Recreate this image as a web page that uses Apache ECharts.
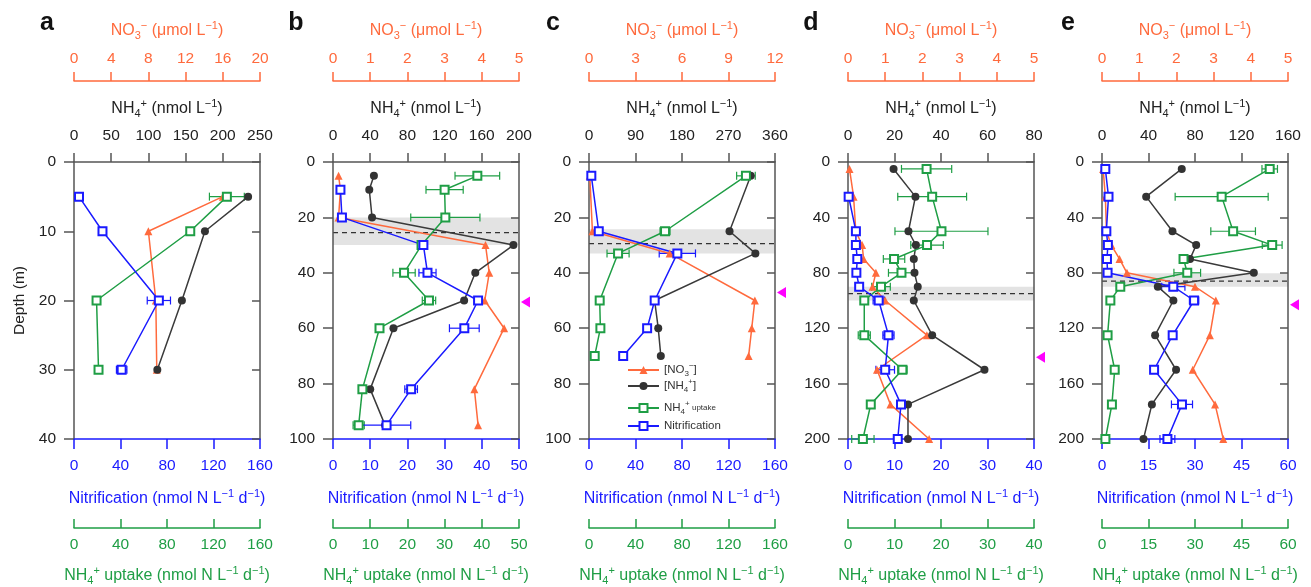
<!DOCTYPE html>
<html><head><meta charset="utf-8">
<script src="https://cdn.jsdelivr.net/npm/echarts@6/dist/echarts.min.js"></script>
<style>html,body{margin:0;padding:0;background:#fff}#c{width:1311px;height:587px}</style>
</head><body><div id="c"></div><script>
const FONT = "'Liberation Sans', Arial, Helvetica, sans-serif";
const C_NO3 = '#ff6a3d', C_NH4 = '#3a3a3a', C_UPT = '#1f9e45', C_NIT = '#1a1aff', C_AX = '#555', C_TXT = '#222';

// ---- axis ranges per panel (a..e) ----
const panelLetters = ['a', 'b', 'c', 'd', 'e'];
const depthMax = [40, 100, 100, 200, 200], depthStep = [10, 20, 20, 40, 40];
const no3Max = [20, 5, 12, 5, 5], no3Step = [4, 1, 3, 1, 1];
const nh4Max = [250, 200, 360, 80, 160], nh4Step = [50, 40, 90, 20, 40];
const nitMax = [160, 50, 160, 40, 60], nitStep = [40, 10, 40, 10, 15];
const uptMax = [160, 50, 160, 40, 60], uptStep = [40, 10, 40, 10, 15];

// ---- panel a ----
const depthA = [5, 10, 20, 30];
const no3A = [16.0, 8.0, 8.8, 8.9];
const nh4A = [234, 176, 145, 112];
const uptA = [131.5, 100, 19.4, 21.1];
const uptErrA = [15, 3, 3, 2];
const depthNitA = [5, 10, 20, 30];
const nitA = [4.3, 24.5, 73, 41];
const nitErrA = [1, 1, 10, 4.5];

// ---- panel b ----
const depthB = [5, 10, 20, 30, 40, 50, 60, 82, 95];
const no3B = [0.15, 0.2, 0.15, 4.1, 4.2, 4.08, 4.6, 3.8, 3.9];
const nh4B = [44, 39, 42, 194, 153, 141, 65, 40, 56];
const uptB = [38.8, 30, 30.2, 23.8, 19.1, 25.8, 12.5, 7.9, 6.9];
const uptErrB = [6, 5, 9.3, 1, 3, 1.8, 0.8, 0.8, 1.5];
const depthNitB = [10, 20, 30, 40, 50, 60, 82, 95];
const nitB = [2.0, 2.4, 24.3, 25.4, 39, 35.3, 21, 14.4];
const nitErrB = [0.6, 1, 1, 2.3, 1, 4, 1.7, 6.5];

// ---- panel c ----
const depthC = [5, 25, 33, 50, 60, 70];
const no3C = [0.05, 0.22, 5.2, 10.7, 10.5, 10.3];
const nh4C = [313, 272, 322, 127, 134, 139];
const uptC = [135, 65.4, 25, 9.2, 9.8, 4.9];
const uptErrC = [8, 4.3, 9.5, 0.8, 0.8, 0.8];
const depthNitC = [5, 25, 33, 50, 60, 70];
const nitC = [2, 8.4, 76, 56.5, 50, 29.4];
const nitErrC = [1, 1, 15.6, 1, 1, 1];

// ---- panel d ----
const depthD = [5, 25, 50, 60, 70, 80, 90, 100, 125, 150, 175, 200];
const no3D = [0.04, 0.15, 0.21, 0.38, 0.42, 0.75, 0.66, 1.0, 2.12, 0.78, 1.14, 2.18];
const nh4D = [19.6, 29, 26, 29.2, 28.3, 28.6, 30, 28.3, 36.2, 58.7, 25.8, 25.8];
const uptD = [16.9, 18.1, 20.1, 17, 9.9, 11.5, 7.1, 3.5, 3.5, 11.7, 4.9, 3.2];
const uptErrD = [5.4, 7.4, 10, 3.5, 2.3, 2.8, 2, 0.6, 1.3, 1, 0.6, 2.4];
const depthNitD = [25, 50, 60, 70, 80, 90, 100, 125, 150, 175, 200];
const nitD = [0.14, 1.7, 1.7, 2, 1.8, 2.4, 6.6, 8.7, 8, 11.4, 10.7];
const nitErrD = [0.3, 0.3, 0.8, 0.3, 0.3, 0.3, 1.2, 1.2, 2, 0.6, 0.5];

// ---- panel e ----
const depthE = [5, 25, 50, 60, 70, 80, 90, 100, 125, 150, 175, 200];
const no3E = [0.03, 0.09, 0.12, 0.25, 0.47, 0.67, 2.5, 3.06, 2.9, 2.44, 3.04, 3.26];
const nh4E = [68.6, 38, 60.6, 81, 75.7, 130.6, 48, 61.4, 45.7, 63.7, 42.9, 35.7];
const uptE = [54.1, 38.6, 42.3, 54.9, 26.3, 27.5, 5.9, 2.7, 1.8, 4.1, 3.2, 1.1];
const uptErrE = [2.5, 15, 7.2, 3.2, 1, 4.3, 1.2, 0.5, 0.5, 0.6, 0.5, 0.5];
const depthNitE = [5, 25, 50, 60, 70, 80, 90, 100, 125, 150, 175, 200];
const nitE = [1.07, 2.1, 1.4, 1.9, 1.6, 1.8, 23, 29.7, 22.8, 16.8, 25.8, 21.1];
const nitErrE = [0.5, 0.5, 0.3, 0.3, 0.3, 0.3, 3.75, 1.5, 1, 1, 3.4, 2.4];

// shaded layer [top, bottom, dashed line] per panel (null = none)
const bands = [null, [20, 30, 25.5], [24.3, 33, 29.5], [90, 100, 95], [80.3, 90, 86]];
// magenta marker depth per panel (null = none)
const markerDepth = [null, 50.5, 47.1, 141, 103];

const panels = [
  {depth: depthA, no3: no3A, nh4: nh4A, upt: uptA, uptErr: uptErrA, dn: depthNitA, nit: nitA, nitErr: nitErrA},
  {depth: depthB, no3: no3B, nh4: nh4B, upt: uptB, uptErr: uptErrB, dn: depthNitB, nit: nitB, nitErr: nitErrB},
  {depth: depthC, no3: no3C, nh4: nh4C, upt: uptC, uptErr: uptErrC, dn: depthNitC, nit: nitC, nitErr: nitErrC},
  {depth: depthD, no3: no3D, nh4: nh4D, upt: uptD, uptErr: uptErrD, dn: depthNitD, nit: nitD, nitErr: nitErrD},
  {depth: depthE, no3: no3E, nh4: nh4E, upt: uptE, uptErr: uptErrE, dn: depthNitE, nit: nitE, nitErr: nitErrE}
];

// ---- layout ----
const gridLeft = [74, 333, 589, 848, 1102];
const gridW = 186, gridTop = 162, gridH = 278;
const letterX = [47, 296, 553, 811, 1068];

function rich(color, base, small) {
  return {
    n: {fontSize: base, color, fontFamily: FONT, lineHeight: 21, verticalAlign: 'middle'},
    s: {fontSize: small, color, fontFamily: FONT, lineHeight: 11, verticalAlign: 'bottom'},
    p: {fontSize: small, color, fontFamily: FONT, lineHeight: 11, verticalAlign: 'top'},
    u: {fontSize: small, color, fontFamily: FONT, lineHeight: 11, verticalAlign: 'middle'}
  };
}
const NAME_NO3 = '{n|NO}{s|3}{p|−}{n| (μmol L}{p|−1}{n|)}';
const NAME_NH4 = '{n|NH}{s|4}{p|+}{n| (nmol L}{p|−1}{n|)}';
const NAME_NIT = '{n|Nitrification (nmol N L}{p|−1}{n| d}{p|−1}{n|)}';
const NAME_UPT = '{n|NH}{s|4}{p|+}{n| uptake (nmol N L}{p|−1}{n| d}{p|−1}{n|)}';

function xAx(g, pos, offset, max, step, lineColor, txtColor, name, labelMargin, nameGap, inside, tickLen) {
  return {
    type: 'value', gridIndex: g, position: pos, offset, min: 0, max, interval: step,
    axisLine: {show: true, onZero: false, lineStyle: {color: lineColor, width: 1.5}},
    axisTick: {show: true, inside, length: tickLen, lineStyle: {color: lineColor, width: 1.5}},
    axisLabel: {show: true, margin: labelMargin, fontSize: 15.5, fontFamily: FONT, color: txtColor},
    splitLine: {show: false},
    name, nameLocation: 'middle', nameGap,
    nameTextStyle: {fontSize: 16, fontFamily: FONT, color: txtColor, rich: rich(txtColor, 16, 11)}
  };
}

const grid = [], xAxis = [], yAxis = [], series = [], graphic = [];

panels.forEach((p, g) => {
  grid.push({left: gridLeft[g], top: gridTop, width: gridW, height: gridH, containLabel: false});
  xAxis.push(xAx(g, 'top', 0, nh4Max[g], nh4Step[g], C_AX, C_TXT, NAME_NH4, 18, 43, false, 9));
  xAxis.push(xAx(g, 'top', 81, no3Max[g], no3Step[g], C_NO3, C_NO3, NAME_NO3, 14, 40, false, 9));
  xAxis.push(xAx(g, 'bottom', 0, nitMax[g], nitStep[g], C_NIT, C_NIT, NAME_NIT, 19, 49, false, 10));
  xAxis.push(xAx(g, 'bottom', 89, uptMax[g], uptStep[g], C_UPT, C_UPT, NAME_UPT, 9, 37, true, 9));
  yAxis.push({
    type: 'value', gridIndex: g, position: 'left', inverse: true, min: 0, max: depthMax[g], interval: depthStep[g],
    axisLine: {show: true, onZero: false, lineStyle: {color: C_AX, width: 1.5}},
    axisTick: {show: true, length: 10, lineStyle: {color: C_AX, width: 1.5}},
    axisLabel: {margin: 18, fontSize: 15.5, fontFamily: FONT, color: C_TXT},
    splitLine: {show: false},
    name: g === 0 ? 'Depth (m)' : '', nameLocation: 'middle', nameGap: 46,
    nameTextStyle: {fontSize: 15.5, fontFamily: FONT, color: C_TXT}
  });
  yAxis.push({
    type: 'value', gridIndex: g, position: 'right', inverse: true, min: 0, max: depthMax[g], interval: depthStep[g],
    axisLine: {show: true, onZero: false, lineStyle: {color: C_AX, width: 1.5}},
    axisTick: {show: true, inside: true, length: 8, lineStyle: {color: C_AX, width: 1.5}},
    axisLabel: {show: false}, splitLine: {show: false}
  });
  const xi = g * 4, yi = g * 2;

  if (bands[g]) {
    series.push({
      type: 'custom', xAxisIndex: xi, yAxisIndex: yi, silent: true, z: 0,
      data: [[0, bands[g][0], bands[g][1], bands[g][2]]], encode: {x: 0, y: [1, 2, 3]},
      renderItem(params, api) {
        const cs = params.coordSys;
        const y1 = api.coord([0, api.value(1)])[1], y2 = api.coord([0, api.value(2)])[1], yd = api.coord([0, api.value(3)])[1];
        return {type: 'group', children: [
          {type: 'rect', shape: {x: cs.x, y: y1, width: cs.width, height: y2 - y1}, style: {fill: '#e3e3e3'}},
          {type: 'line', shape: {x1: cs.x, y1: yd, x2: cs.x + cs.width, y2: yd}, style: {stroke: '#333', lineWidth: 1.2, lineDash: [5, 4]}}
        ]};
      }
    });
  }
  if (markerDepth[g] != null) {
    series.push({
      type: 'custom', xAxisIndex: xi, yAxisIndex: yi, silent: true, clip: false, z: 5,
      data: [[0, markerDepth[g]]], encode: {x: 0, y: 1},
      renderItem(params, api) {
        const cs = params.coordSys;
        const y = api.coord([0, api.value(1)])[1], x = cs.x + cs.width + 2;
        return {type: 'polygon', shape: {points: [[x, y], [x + 9, y - 5.5], [x + 9, y + 5.5]]}, style: {fill: '#ff00ff'}};
      }
    });
  }
  function errSeries(data, xIndex, color) {
    return {
      type: 'custom', xAxisIndex: xIndex, yAxisIndex: yi, silent: true, z: 1,
      data, encode: {x: 0, y: 1},
      renderItem(params, api) {
        const x = api.value(0), y = api.value(1), e = api.value(2);
        const l = api.coord([x - e, y]), r = api.coord([x + e, y]);
        const st = {stroke: color, lineWidth: 1.2};
        return {type: 'group', children: [
          {type: 'line', shape: {x1: l[0], y1: l[1], x2: r[0], y2: r[1]}, style: st},
          {type: 'line', shape: {x1: l[0], y1: l[1] - 4, x2: l[0], y2: l[1] + 4}, style: st},
          {type: 'line', shape: {x1: r[0], y1: r[1] - 4, x2: r[0], y2: r[1] + 4}, style: st}
        ]};
      }
    };
  }
  series.push(errSeries(p.upt.map((v, i) => [v, p.depth[i], p.uptErr[i]]), xi + 3, C_UPT));
  series.push(errSeries(p.nit.map((v, i) => [v, p.dn[i], p.nitErr[i]]), xi + 2, C_NIT));

  series.push({type: 'line', name: 'NO3', xAxisIndex: xi + 1, yAxisIndex: yi, z: 3,
    data: p.no3.map((v, i) => [v, p.depth[i]]), symbol: 'triangle', symbolSize: 8,
    color: C_NO3, lineStyle: {color: C_NO3, width: 1.5}, itemStyle: {color: C_NO3}});
  series.push({type: 'line', name: 'NH4', xAxisIndex: xi, yAxisIndex: yi, z: 3,
    data: p.nh4.map((v, i) => [v, p.depth[i]]), symbol: 'circle', symbolSize: 8,
    color: C_NH4, lineStyle: {color: C_NH4, width: 1.5}, itemStyle: {color: '#333'}});
  series.push({type: 'line', name: 'uptake', xAxisIndex: xi + 3, yAxisIndex: yi, z: 3,
    data: p.upt.map((v, i) => [v, p.depth[i]]), symbol: 'emptyRect', symbolSize: 8,
    color: C_UPT, lineStyle: {color: C_UPT, width: 1.5}, itemStyle: {color: C_UPT, borderWidth: 1.5}});
  series.push({type: 'line', name: 'Nitrification', xAxisIndex: xi + 2, yAxisIndex: yi, z: 3,
    data: p.nit.map((v, i) => [v, p.dn[i]]), symbol: 'emptyRect', symbolSize: 8,
    color: C_NIT, lineStyle: {color: C_NIT, width: 1.5}, itemStyle: {color: C_NIT, borderWidth: 1.5}});

  graphic.push({type: 'text', x: letterX[g], y: 23, style: {text: panelLetters[g], font: "bold 25px " + FONT, fill: '#111', align: 'center', verticalAlign: 'middle'}});
});

const legendNames = ['NO3', 'NH4', 'uptake', 'Nitrification'];
const legendLabels = {
  NO3: '{n|[NO}{s|3}{p|−}{n|]}',
  NH4: '{n|[NH}{s|4}{p|+}{n|]}',
  uptake: '{n|NH}{s|4}{p|+}{u| uptake}',
  Nitrification: '{n|Nitrification}'
};
const legendY = [370, 386, 408, 428];
const legend = legendNames.map((nm, i) => ({
  data: [nm], orient: 'vertical', left: 627, top: legendY[i] - 8, padding: 0,
  itemWidth: 31, itemHeight: 10, itemGap: 0, selectedMode: false,
  formatter: (n) => legendLabels[n],
  textStyle: {fontSize: 11.5, fontFamily: FONT, color: '#333', padding: [0, 0, 0, 0],
    rich: {
      n: {fontSize: 11.5, color: '#333', fontFamily: FONT, lineHeight: 16, verticalAlign: 'middle'},
      s: {fontSize: 8, color: '#333', fontFamily: FONT, lineHeight: 8, verticalAlign: 'bottom'},
      p: {fontSize: 8, color: '#333', fontFamily: FONT, lineHeight: 8, verticalAlign: 'top'},
      u: {fontSize: 8, color: '#333', fontFamily: FONT, lineHeight: 8, verticalAlign: 'middle'}
    }}
}));

const chart = echarts.init(document.getElementById('c'), null, {renderer: 'canvas'});
chart.setOption({
  animation: false,
  backgroundColor: '#fff',
  textStyle: {fontFamily: FONT},
  grid, xAxis, yAxis, series, legend, graphic
});
</script></body></html>
